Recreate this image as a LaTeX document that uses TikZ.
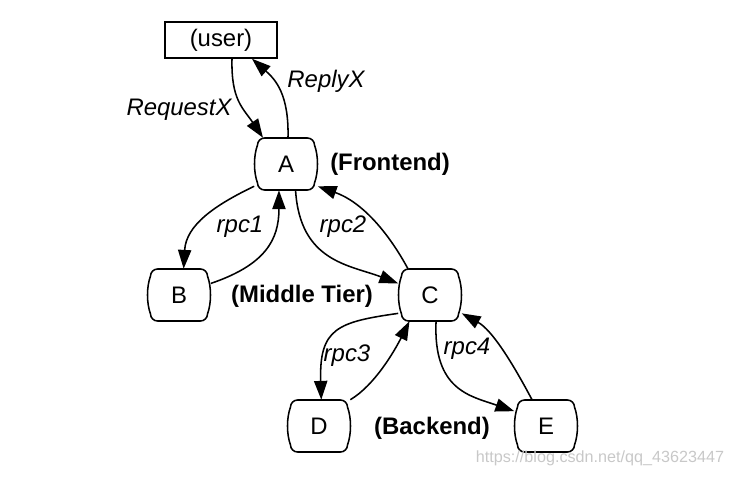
\documentclass[tikz,border=0pt]{standalone}
\usepackage{fontspec}
\setmainfont{Liberation Sans}
\usepackage{xcolor}
\usetikzlibrary{arrows.meta,calc}
\definecolor{rpcdark}{HTML}{000000}
\definecolor{wmgray}{HTML}{C8C8C8}
\tikzset{
  tierbox/.style   = {rectangle, minimum width=1.575cm, minimum height=1.3cm, inner sep=0pt,
                      font=\fontsize{17}{20}\selectfont},
  framepen/.style  = {draw=rpcdark, line width=1.1pt},
  userbox/.style   = {rectangle, draw=rpcdark, line width=1.1pt,
                      minimum width=2.8cm, minimum height=0.9cm, inner sep=0pt,
                      font=\fontsize{17}{20}\selectfont},
  callarrow/.style = {-{Triangle[length=0.47cm,width=0.33cm]}, line width=1.1pt, rpcdark},
  rpclabel/.style  = {font=\fontsize{17}{20}\selectfont\itshape, inner sep=0pt},
  tierlabel/.style = {font=\fontsize{17}{20}\selectfont\bfseries, inner sep=0pt},
  wmark/.style     = {font=\fontsize{11.5}{13}\selectfont\color{wmgray}, inner sep=0pt},
}
% box with bowed sides round a tier node
\newcommand{\tierframe}[1]{%
  \draw[framepen, shift={(#1.center)}]
    (-21.5,-26) -- (21.5,-26)
    .. controls (25.3,-26) and (28.5,-22.8) .. (28.5,-19)
    .. controls (32.5,-8) and (32.5,8) .. (28.5,19)
    .. controls (28.5,22.8) and (25.3,26) .. (21.5,26)
    -- (-21.5,26)
    .. controls (-25.3,26) and (-28.5,22.8) .. (-28.5,19)
    .. controls (-32.5,8) and (-32.5,-8) .. (-28.5,-19)
    .. controls (-28.5,-22.8) and (-25.3,-26) .. cycle;}

\begin{document}
\begin{tikzpicture}[x=0.025cm, y=-0.025cm]
\useasboundingbox (0,0) rectangle (733,476);

\node[userbox] (user) at (221,40)  {(user)};
\node[tierbox] (A)    at (286,164) {A};
\node[tierbox] (B)    at (179,295) {B};
\node[tierbox] (C)    at (430,295) {C};
\node[tierbox] (D)    at (319,426) {D};
\node[tierbox] (E)    at (546,426) {E};
\tierframe{A}
\tierframe{B}
\tierframe{C}
\tierframe{D}
\tierframe{E}

% user <-> frontend
\draw[callarrow] ($(user.south)+(11,0)$) .. controls (231,100) and (243,108) .. ($(A.north)+(-23,0)$);
\draw[callarrow] ($(A.north)+(2,0)$) .. controls (289,95) and (276,80) .. ($(user.south)+(31,0)$);

% frontend <-> middle tier
\draw[callarrow] (A.-145) .. controls (215,205) and (186,225) .. (B.80);
\draw[callarrow] (B.20) .. controls (265,265) and (279,240) .. (A.-105);
\draw[callarrow] (A.-70) .. controls (300,262) and (350,265) .. (C.160);
\draw[callarrow] (C.130) .. controls (388,232) and (362,202) .. (A.-35);

% middle tier <-> backend
\draw[callarrow] (C.-150) .. controls (338,322) and (319,328) .. (D.85);
\draw[callarrow] (D.40) .. controls (375,385) and (395,350) .. (C.-128);
\draw[callarrow] (C.-77) .. controls (433,390) and (470,396) .. (E.155);
\draw[callarrow] (E.118) .. controls (512,362) and (492,330) .. (C.-30);

\node[rpclabel]  (lreq)  at (179,110) {RequestX};
\node[rpclabel]  (lrep)  at (326,81)  {ReplyX};
\node[rpclabel]  (lrpc1) at (240,227) {rpc1};
\node[rpclabel]  (lrpc2) at (343,227) {rpc2};
\node[rpclabel]  (lrpc3) at (347,356) {rpc3};
\node[rpclabel]  (lrpc4) at (467,349) {rpc4};

\node[tierlabel] (front) at (390,164) {(Frontend)};
\node[tierlabel] (mid)   at (302,296) {(Middle Tier)};
\node[tierlabel] (back)  at (432,428) {(Backend)};

\node[wmark] (wm) at (600,458) {https://blog.csdn.net/qq\_43623447};
\end{tikzpicture}
\end{document}
